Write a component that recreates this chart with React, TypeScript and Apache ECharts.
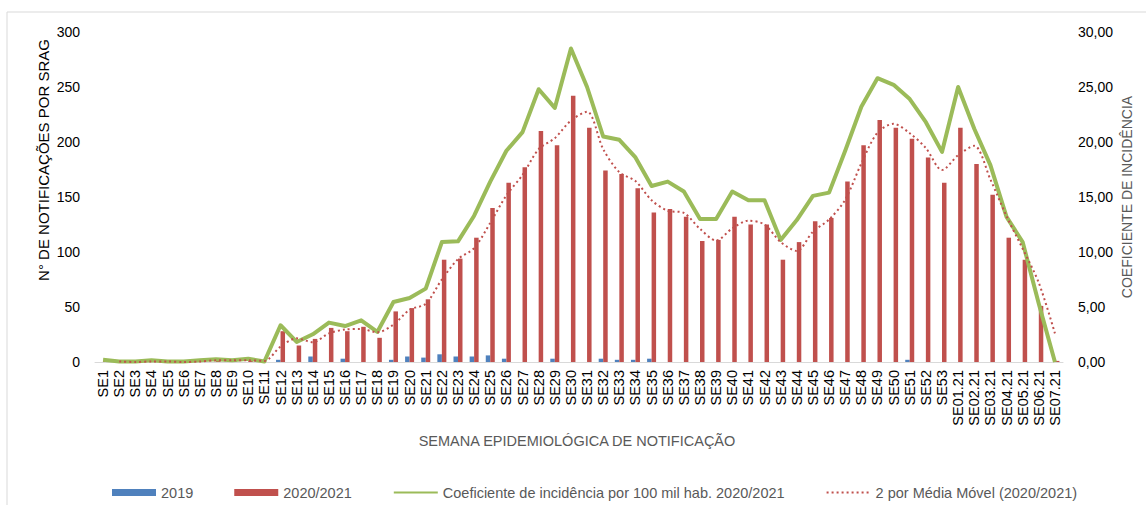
import React, { useEffect, useRef } from "react";
import * as echarts from "echarts";

const categories = [
  "SE1","SE2","SE3","SE4","SE5","SE6","SE7","SE8","SE9","SE10","SE11","SE12","SE13","SE14","SE15","SE16","SE17","SE18","SE19","SE20",
  "SE21","SE22","SE23","SE24","SE25","SE26","SE27","SE28","SE29","SE30","SE31","SE32","SE33","SE34","SE35","SE36","SE37","SE38","SE39","SE40",
  "SE41","SE42","SE43","SE44","SE45","SE46","SE47","SE48","SE49","SE50","SE51","SE52","SE53",
  "SE01.21","SE02.21","SE03.21","SE04.21","SE05.21","SE06.21","SE07.21",
];

const cases2019 = [
  0,0,0,0,0,0,0,0,0,0,0, 2,0,5,0,3,0,0,2,5, 4,7,5,5,6,3,0,0,3,0, 0,3,2,2,3,0,0,0,0,0, 0,0,0,0,0,0,0,0,0,0, 2,0,0, 0,0,0,0,0,0,0,
];

const cases2020 = [
  1,0,0,1,0,0,1,2,1,2,0, 28,15,21,31,28,32,22,46,49, 57,93,94,113,140,163,177,210,197,242, 213,174,171,158,136,139,132,110,111,132, 125,125,93,109,128,131,164,197,220,213, 203,186,163, 213,180,152,113,93,51,1,
];

const incidence = [
  0.2,0.05,0.05,0.15,0.05,0.05,0.15,0.25,0.15,0.3,0.05, 3.34,1.82,2.52,3.58,3.27,3.79,2.73,5.45,5.82, 6.67,10.9,10.97,13.3,16.4,19.2,20.9,24.8,23.1,28.5, 25.0,20.5,20.2,18.6,16.0,16.4,15.5,13.0,13.0,15.5, 14.7,14.7,11.1,12.9,15.1,15.4,19.2,23.2,25.8,25.2, 23.9,21.8,19.1, 25.0,21.2,17.9,13.2,10.9,5.3,0,
];

const movingAvg = [
  null,0.5,0,0.5,0.5,0,0.5,1.5,1.5,1.5,1, 14,21.5,18,26,29.5,30,27,34,47.5, 53,75,93.5,103.5,126.5,151.5,170,193.5,203.5,219.5, 227.5,193.5,172.5,164.5,147,137.5,135.5,121,110.5,121.5, 128.5,125,109,101,118.5,129.5,147.5,180.5,208.5,216.5, 208,194.5,174.5, 188,196.5,166,132.5,103,72,26,
];

const leftTicks = { min: 0, max: 300, interval: 50 };
const rightTicks = { min: 0, max: 30, interval: 5 };

const FONT = "Liberation Sans";

export default function App() {
  const ref = useRef<HTMLDivElement>(null);
  useEffect(() => {
    if (!ref.current) return;
    const chart = echarts.init(ref.current, null, { renderer: "svg" });
    chart.setOption({
      animation: false,
      backgroundColor: "#ffffff",
      textStyle: { fontFamily: FONT },
      grid: { left: 95, right: 83, top: 32, bottom: 143, containLabel: false },
      graphic: [
        {
          type: "rect",
          shape: { x: 7, y: 12, width: 1300, height: 600 },
          style: { fill: "none", stroke: "#d9d9d9", lineWidth: 1 },
          silent: true,
        },
        {
          type: "text",
          x: 43,
          y: 160,
          rotation: Math.PI / 2,
          style: {
            text: "N° DE NOTIFICAÇÕES POR SRAG",
            font: `15px "${FONT}"`,
            fill: "#000000",
            textAlign: "center",
            textVerticalAlign: "middle",
          },
        },
        {
          type: "text",
          x: 1127,
          y: 197,
          rotation: Math.PI / 2,
          style: {
            text: "COEFICIENTE DE INCIDÊNCIA",
            font: `14px "${FONT}"`,
            fill: "#595959",
            textAlign: "center",
            textVerticalAlign: "middle",
          },
        },
        {
          type: "text",
          x: 577,
          y: 441,
          style: {
            text: "SEMANA EPIDEMIOLÓGICA DE NOTIFICAÇÃO",
            font: `14.5px "${FONT}"`,
            fill: "#595959",
            textAlign: "center",
            textVerticalAlign: "middle",
          },
        },
      ],
      legend: {
        left: 107,
        top: 480,
        itemGap: 41,
        itemWidth: 44,
        itemHeight: 7,
        textStyle: { fontSize: 14.5, color: "#595959", fontFamily: FONT },
        data: [
          { name: "2019", icon: "rect" },
          { name: "2020/2021", icon: "rect" },
          { name: "Coeficiente de incidência por 100 mil hab. 2020/2021", itemStyle: { opacity: 0 } },
          { name: "2 por Média Móvel (2020/2021)", itemStyle: { opacity: 0 } },
        ],
      },
      xAxis: {
        type: "category",
        data: categories,
        boundaryGap: true,
        axisLine: { lineStyle: { color: "#d9d9d9", width: 1 } },
        axisTick: { show: false },
        axisLabel: {
          rotate: 90,
          interval: 0,
          margin: 8,
          fontSize: 14.5,
          color: "#000000",
          fontFamily: FONT,
        },
      },
      yAxis: [
        {
          type: "value",
          min: leftTicks.min,
          max: leftTicks.max,
          interval: leftTicks.interval,
          splitLine: { show: false },
          axisLine: { show: false },
          axisTick: { show: false },
          axisLabel: { fontSize: 14, color: "#000000", margin: 15, fontFamily: FONT },
        },
        {
          type: "value",
          min: rightTicks.min,
          max: rightTicks.max,
          interval: rightTicks.interval,
          position: "right",
          splitLine: { show: false },
          axisLine: { show: false },
          axisTick: { show: false },
          axisLabel: {
            fontSize: 14,
            color: "#000000",
            margin: 15,
            fontFamily: FONT,
            formatter: (v: number) => v.toFixed(2).replace(".", ","),
          },
        },
      ],
      series: [
        {
          name: "2019",
          type: "bar",
          data: cases2019,
          barWidth: 4.5,
          barGap: "0%",
          itemStyle: { color: "#4f81bd" },
        },
        {
          name: "2020/2021",
          type: "bar",
          data: cases2020,
          barWidth: 4.5,
          barGap: "0%",
          itemStyle: { color: "#c0504d" },
        },
        {
          name: "Coeficiente de incidência por 100 mil hab. 2020/2021",
          type: "line",
          yAxisIndex: 1,
          data: incidence,
          symbol: "none",
          showSymbol: false,
          lineStyle: { color: "#9bbb59", width: 4, join: "round" },
          itemStyle: { color: "#9bbb59" },
          z: 3,
        },
        {
          name: "2 por Média Móvel (2020/2021)",
          type: "line",
          yAxisIndex: 0,
          data: movingAvg,
          symbol: "none",
          showSymbol: false,
          smooth: 0.3,
          connectNulls: false,
          lineStyle: { color: "#c0504d", width: 2, type: [2, 3] },
          itemStyle: { color: "#c0504d" },
          z: 4,
        },
      ],
    });
    return () => chart.dispose();
  }, []);
  return (
    <div
      ref={ref}
      style={{ position: "fixed", left: 0, top: 0, width: 1146, height: 505, background: "#fff" }}
    />
  );
}
